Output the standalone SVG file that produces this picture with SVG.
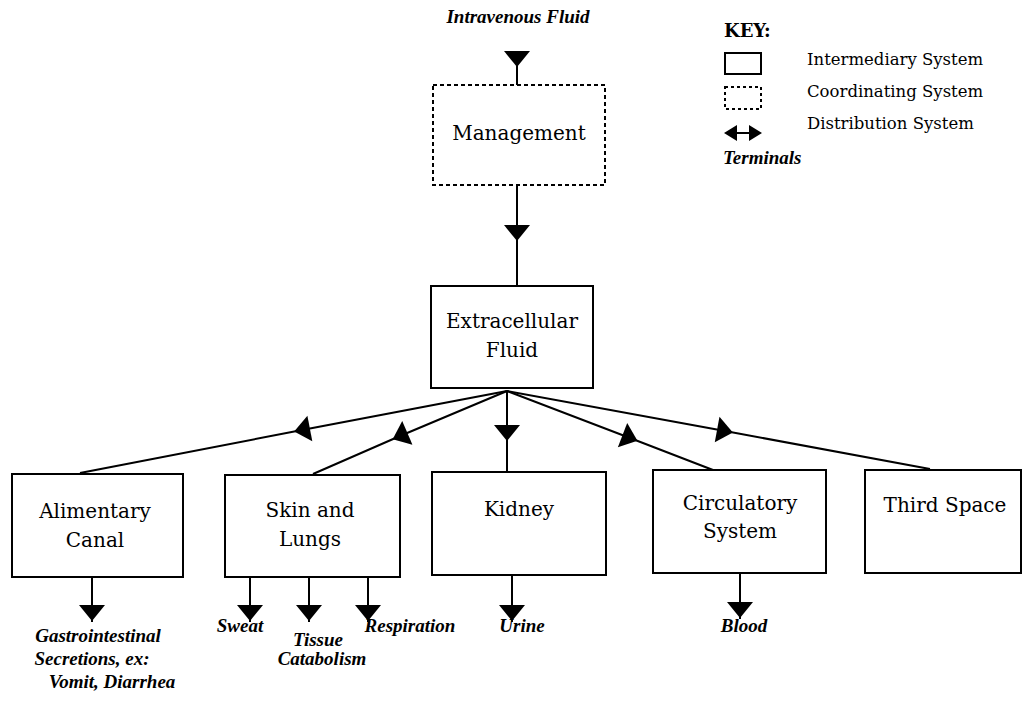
<svg xmlns="http://www.w3.org/2000/svg" width="1024" height="704" viewBox="0 0 1024 704">
  <defs>
    <style>
      .box { fill: #fff; stroke: #000; stroke-width: 2; }
      .dash { fill: #fff; stroke: #000; stroke-width: 2; stroke-dasharray: 4 3; }
      .dot { fill: none; stroke: #000; stroke-width: 2; stroke-dasharray: 3 3; }
      .wire { fill: none; stroke: #000; stroke-width: 2; marker-mid: url(#tri); }
      .lbl { font-family: "DejaVu Serif", "Liberation Serif", serif; font-size: 20px; fill: #000; text-anchor: middle; }
      .term { font-family: "Liberation Serif", "Times New Roman", serif; font-style: italic; font-weight: bold; font-size: 19px; fill: #000; text-anchor: middle; }
      .key { font-family: "DejaVu Serif", "Liberation Serif", serif; font-size: 16.5px; fill: #000; }
    </style>
    <!-- filled arrowhead placed at the middle vertex of each connector -->
    <marker id="tri" markerUnits="userSpaceOnUse" markerWidth="30" markerHeight="30" viewBox="-15 -15 30 30" refX="0" refY="0" orient="auto">
      <path d="M8,0 L-8,-13 L-8,13 Z" fill="#000"/>
    </marker>
  </defs>

  <!-- connectors -->
  <g id="connectors">
    <path class="wire" d="M517,51 L517,59 L517,85"/>
    <path class="wire" d="M517,185 L517,233 L517,286"/>
    <!-- distribution fan from extracellular fluid -->
    <path class="wire" d="M507,391 L302,430 L80,473"/>
    <path class="wire" d="M507,391 L400,436 L313,474"/>
    <path class="wire" d="M507,391 L507,433 L507,472"/>
    <path class="wire" d="M507,391 L630,438 L713,470"/>
    <path class="wire" d="M507,391 L725,431 L930,469"/>
    <!-- terminal outflows -->
    <path class="wire" d="M92,577 L92,613 L92,622"/>
    <path class="wire" d="M250,577 L250,613 L250,622"/>
    <path class="wire" d="M309,577 L309,613 L309,622"/>
    <path class="wire" d="M368,577 L368,613 L368,622"/>
    <path class="wire" d="M512,575 L512,613 L512,622"/>
    <path class="wire" d="M740,573 L740,610 L740,619"/>
  </g>

  <text class="term" x="518" y="23">Intravenous Fluid</text>

  <g id="management">
    <rect class="dash" x="433" y="85" width="172" height="100"/>
    <text class="lbl" x="519" y="140">Management</text>
  </g>

  <g id="extracellular-fluid">
    <rect class="box" x="431" y="286" width="162" height="102"/>
    <text class="lbl" x="512" y="328">Extracellular</text>
    <text class="lbl" x="512" y="357">Fluid</text>
  </g>

  <g id="alimentary-canal">
    <rect class="box" x="12" y="474" width="171" height="103"/>
    <text class="lbl" x="95" y="518">Alimentary</text>
    <text class="lbl" x="95" y="547">Canal</text>
  </g>

  <g id="skin-and-lungs">
    <rect class="box" x="225" y="475" width="175" height="102"/>
    <text class="lbl" x="310" y="517">Skin and</text>
    <text class="lbl" x="310" y="546">Lungs</text>
  </g>

  <g id="kidney">
    <rect class="box" x="432" y="472" width="174" height="103"/>
    <text class="lbl" x="519" y="516">Kidney</text>
  </g>

  <g id="circulatory-system">
    <rect class="box" x="653" y="470" width="173" height="103"/>
    <text class="lbl" x="740" y="510">Circulatory</text>
    <text class="lbl" x="740" y="538">System</text>
  </g>

  <g id="third-space">
    <rect class="box" x="865" y="470" width="156" height="103"/>
    <text class="lbl" x="945" y="512">Third Space</text>
  </g>

  <!-- terminal labels -->
  <g id="terminals">
    <text class="term" x="98" y="642">Gastrointestinal</text>
    <text class="term" x="92" y="665">Secretions, ex:</text>
    <text class="term" x="112" y="688">Vomit, Diarrhea</text>
    <text class="term" x="240" y="632">Sweat</text>
    <text class="term" x="318" y="646">Tissue</text>
    <text class="term" x="322" y="665">Catabolism</text>
    <text class="term" x="410" y="632">Respiration</text>
    <text class="term" x="522" y="632">Urine</text>
    <text class="term" x="744" y="632">Blood</text>
  </g>

  <!-- key -->
  <g id="key">
    <text x="724" y="37" style="font-family:'DejaVu Serif','Liberation Serif',serif;font-size:18px;font-weight:bold">KEY:</text>
    <rect class="box" x="725" y="53" width="36" height="21"/>
    <rect class="dot" x="725" y="87" width="36" height="22"/>
    <line x1="732" y1="133" x2="754" y2="133" stroke="#000" stroke-width="2"/>
    <path d="M724,133 L737,125 L737,141 Z M762,133 L749,125 L749,141 Z" fill="#000"/>
    <text class="term" x="723" y="164" style="text-anchor:start">Terminals</text>
    <text class="key" x="807" y="65">Intermediary System</text>
    <text class="key" x="807" y="97">Coordinating System</text>
    <text class="key" x="807" y="129">Distribution System</text>
  </g>
</svg>
